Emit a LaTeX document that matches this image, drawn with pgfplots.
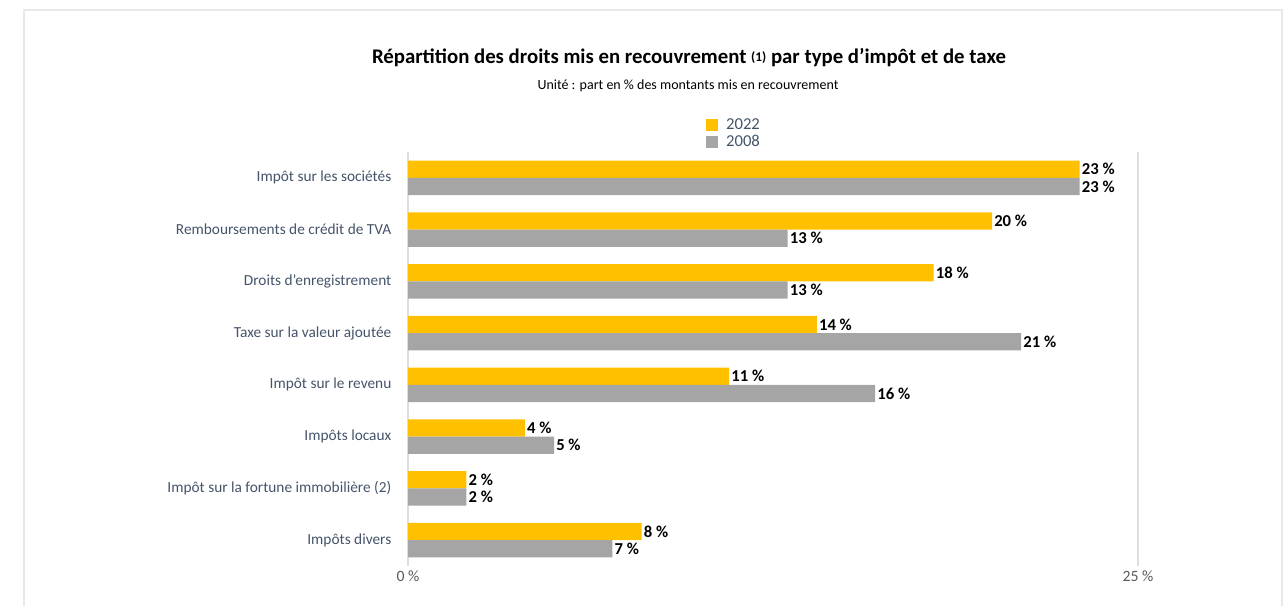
\documentclass[border=0pt]{standalone}
\usepackage{pgfplots}
\pgfplotsset{compat=1.18}
\usepackage{fontspec}
\setmainfont{Carlito}
\definecolor{cyellow}{HTML}{FFC000}
\definecolor{cgray}{HTML}{A5A5A5}
\definecolor{labelblue}{HTML}{44546A}
\definecolor{tickgray}{HTML}{595959}
\definecolor{framegray}{HTML}{E8E8E8}
\begin{document}
\begin{tikzpicture}
\path[use as bounding box] (0,0) rectangle (963pt,454.5pt);
\draw[framegray, line width=1.5pt] (18pt,0) -- (18pt,447pt) -- (961.5pt,447pt) -- (961.5pt,0);
\node[font=\fontsize{15.6}{18}\selectfont\bfseries] at (516.75pt,411pt) {Répartition des droits mis en recouvrement {\fontsize{10}{12}\selectfont\raisebox{2pt}{(1)}} par type d’impôt et de taxe};
\node[font=\fontsize{10.5}{12}\selectfont] at (516pt,390.5pt) {Unité : part en \% des montants mis en recouvrement};
\begin{axis}[
  at={(306pt,30pt)}, anchor=south west,
  scale only axis, width=547.5pt, height=310.5pt,
  xbar, bar width=13pt,
  xmin=0, xmax=25, ymin=-0.5, ymax=7.5,
  xtick={0,25}, xticklabels={0 \%, 25 \%},
  ytick={0,1,2,3,4,5,6,7},
  yticklabels={Impôts divers, Impôt sur la fortune immobilière (2), Impôts locaux, Impôt sur le revenu, Taxe sur la valeur ajoutée, Droits d’enregistrement, Remboursements de crédit de TVA, Impôt sur les sociétés},
  yticklabel style={font=\fontsize{11.5}{13}\selectfont, text=labelblue, xshift=-9pt},
  xticklabel style={font=\fontsize{11.8}{13}\selectfont, text=tickgray},
  axis line style={draw=none},
  major tick length=0pt,
  xmajorgrids, grid style={draw=black!13, line width=0.8pt},
  point meta=x,
  /pgf/number format/assume math mode=true,
  nodes near coords={\pgfmathprintnumber{\pgfplotspointmeta}~\%},
  nodes near coords style={font=\fontsize{12.5}{13}\selectfont\bfseries, text=black, anchor=west, inner sep=1.5pt},
  legend style={at={(0.408,1.087)}, anchor=north west, draw=none, fill=none, font=\fontsize{12.5}{13}\selectfont, text=labelblue, row sep=-1.5pt, inner sep=0pt},
  legend cell align=left,
  legend image code/.code={\fill[#1] (0pt,-4.5pt) rectangle (9pt,4.5pt);},
  legend style={/tikz/every even column/.append style={column sep=0pt}, nodes={inner xsep=6pt}},
]
\addplot[fill=cyellow, draw=none, bar shift=6.5pt] coordinates {(8,0) (2,1) (4,2) (11,3) (14,4) (18,5) (20,6) (23,7)};
\addlegendentry{2022}
\addplot[fill=cgray, draw=none, bar shift=-6.5pt] coordinates {(7,0) (2,1) (5,2) (16,3) (21,4) (13,5) (13,6) (23,7)};
\addlegendentry{2008}
\end{axis}
\end{tikzpicture}
\end{document}
